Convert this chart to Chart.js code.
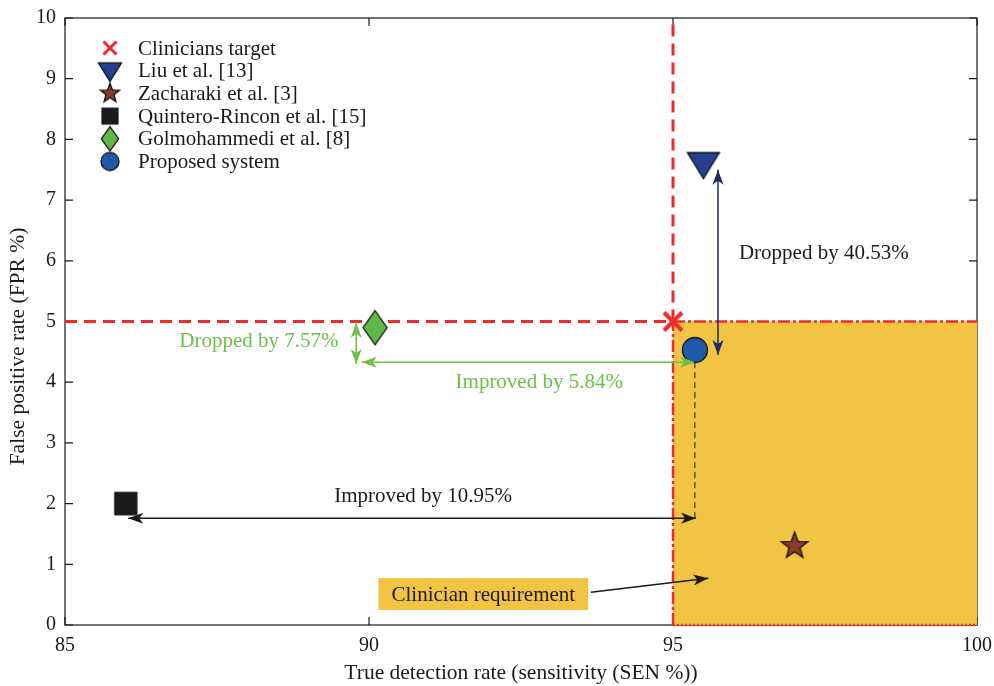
<!DOCTYPE html>
<html>
<head>
<meta charset="utf-8">
<script src="https://cdn.jsdelivr.net/npm/chart.js@4.4.0/dist/chart.umd.min.js"></script>
<style>
  html, body { margin: 0; padding: 0; background: #fff; }
  #wrap { width: 994px; height: 686px; }
</style>
</head>
<body>
<div id="wrap"><canvas id="chart_fpr_sen"></canvas></div>
<script>
// methods compared (SEN %, FPR %)
const methods = ["Clinicians target", "Liu et al. [13]", "Zacharaki et al. [3]",
  "Quintero-Rincon et al. [15]", "Golmohammedi et al. [8]", "Proposed system"];
const sensitivity = [95, 95.5, 97, 86, 90.1, 95.36];
const fpr = [5, 7.6, 1.3, 2, 4.9, 4.53];
const markerKinds = ["x", "triDown", "star", "square", "diamond", "circle"];
const markerColors = ["#ee2b2b", "#263f8e", "#8c3a2c", "#1c1a1a", "#62b846", "#2158a8"];

const xTicks = [85, 90, 95, 100];
const yTicks = [0, 1, 2, 3, 4, 5, 6, 7, 8, 9, 10];

// clinician target guide lines and requirement region
const guideHX = [85, 95], guideHY = [5, 5];
const guideVX = [95, 95], guideVY = [5, 10];
const regionX = [95, 100], regionY = [5, 5];
const regionLeftX = [95, 95], regionLeftY = [0, 5];
const regionBottomX = [95, 100], regionBottomY = [0, 0];

// arrows
const arrLiuX = [95.74, 95.74], arrLiuY = [7.5, 4.45];
const arrGolmVX = [89.79, 89.79], arrGolmVY = [4.98, 4.3];
const arrGolmHX = [89.88, 95.36], arrGolmHY = [4.33, 4.33];
const arrQuinX = [86.04, 95.38], arrQuinY = [1.76, 1.76];
const dropLineX = [95.36, 95.36], dropLineY = [4.33, 1.76];
const arrReqX = [93.65, 95.58], arrReqY = [0.54, 0.77];

const notes = [
  { text: "Dropped by 40.53%", x: 97.48, y: 6.13, color: "#1a1a1a" },
  { text: "Dropped by 7.57%", x: 88.19, y: 4.68, color: "#6cc04a" },
  { text: "Improved by 5.84%", x: 92.8, y: 4.02, color: "#6cc04a" },
  { text: "Improved by 10.95%", x: 90.89, y: 2.13, color: "#1a1a1a" },
  { text: "Clinician requirement", x: 91.88, y: 0.51, color: "#1a1a1a", box: "#f2c443" },
];

const yTitle = "False positive rate (FPR %)";

const FONT = "Liberation Serif";
const YELLOW = "#f2c443";
const RED = "#ee2b2b";

function seg(xs, ys) {
  return xs.map((x, i) => ({ x: x, y: ys[i] }));
}

function makeMarker(kind, color, s) {
  const c = document.createElement("canvas");
  const size = Math.ceil(44 * s);
  c.width = size;
  c.height = size;
  const ctx = c.getContext("2d");
  const m = size / 2;
  ctx.fillStyle = color;
  ctx.strokeStyle = "#111";
  ctx.lineWidth = 1.3;
  ctx.lineJoin = "miter";
  ctx.beginPath();
  if (kind === "x") {
    const r = 9 * s;
    ctx.strokeStyle = color;
    ctx.lineWidth = 4.2 * s;
    ctx.moveTo(m - r, m - r); ctx.lineTo(m + r, m + r);
    ctx.moveTo(m + r, m - r); ctx.lineTo(m - r, m + r);
    ctx.stroke();
    return c;
  }
  if (kind === "triDown") {
    ctx.moveTo(m - 16 * s, m - 11 * s);
    ctx.lineTo(m + 16 * s, m - 11 * s);
    ctx.lineTo(m, m + 15 * s);
    ctx.closePath();
  } else if (kind === "star") {
    for (let i = 0; i < 10; i++) {
      const r = (i % 2 === 0 ? 14 : 5.8) * s;
      const a = -Math.PI / 2 + i * Math.PI / 5;
      const px = m + r * Math.cos(a), py = m + r * Math.sin(a);
      if (i === 0) ctx.moveTo(px, py); else ctx.lineTo(px, py);
    }
    ctx.closePath();
  } else if (kind === "square") {
    ctx.rect(m - 11 * s, m - 11 * s, 22 * s, 22 * s);
  } else if (kind === "diamond") {
    ctx.moveTo(m, m - 17 * s);
    ctx.lineTo(m + 12 * s, m);
    ctx.lineTo(m, m + 17 * s);
    ctx.lineTo(m - 12 * s, m);
    ctx.closePath();
  } else {
    ctx.arc(m, m, 12.5 * s, 0, Math.PI * 2);
  }
  ctx.fill();
  ctx.stroke();
  return c;
}

const legendMarkers = markerKinds.map((k, i) => makeMarker(k, markerColors[i], 0.72));

function lineSet(xs, ys, color, width, dash, extra) {
  return Object.assign({
    type: "line",
    data: seg(xs, ys),
    borderColor: color,
    borderWidth: width,
    borderDash: dash || [],
    pointRadius: 0,
    fill: false,
    tension: 0,
    clip: false,
  }, extra || {});
}

const pointSets = methods.map((name, i) => ({
  label: name,
  data: [{ x: sensitivity[i], y: fpr[i] }],
  pointStyle: makeMarker(markerKinds[i], markerColors[i], 1),
  pointRadius: 14,
  clip: false,
}));

const datasets = pointSets.concat([
  lineSet(arrLiuX, arrLiuY, "#1f2a66", 1.5, null, { arrow: "both" }),
  lineSet(arrGolmVX, arrGolmVY, "#6cc04a", 1.5, null, { arrow: "both" }),
  lineSet(arrGolmHX, arrGolmHY, "#6cc04a", 1.5, null, { arrow: "both" }),
  lineSet(arrQuinX, arrQuinY, "#1a1a1a", 1.5, null, { arrow: "both" }),
  lineSet(dropLineX, dropLineY, "#1a1a1a", 1, [6, 4]),
  lineSet(arrReqX, arrReqY, "#1a1a1a", 1.5, null, { arrow: "end" }),
  lineSet(guideHX, guideHY, RED, 3, [12, 7]),
  lineSet(guideVX, guideVY, RED, 3, [12, 7]),
  lineSet(regionX, regionY, RED, 2.5, [12, 3, 3, 3]),
  lineSet(regionLeftX, regionLeftY, RED, 2.5, [12, 3, 3, 3]),
  lineSet(regionBottomX, regionBottomY, RED, 2.5, [2, 2]),
  lineSet(regionX, regionY, "rgba(0,0,0,0)", 0, null, { fill: "origin", backgroundColor: YELLOW }),
]);

function drawHead(ctx, x1, y1, x2, y2, color) {
  const a = Math.atan2(y2 - y1, x2 - x1);
  ctx.save();
  ctx.translate(x2, y2);
  ctx.rotate(a);
  ctx.beginPath();
  ctx.moveTo(0, 0);
  ctx.lineTo(-15, -5.5);
  ctx.lineTo(-11, 0);
  ctx.lineTo(-15, 5.5);
  ctx.closePath();
  ctx.fillStyle = color;
  ctx.fill();
  ctx.restore();
}

const framePlugin = {
  id: "frame",
  beforeDatasetsDraw(chart) {
    const { ctx, chartArea: a, scales } = chart;
    ctx.save();
    ctx.strokeStyle = "#1a1a1a";
    ctx.lineWidth = 1.2;
    ctx.strokeRect(a.left, a.top, a.right - a.left, a.bottom - a.top);
    ctx.beginPath();
    scales.x.ticks.forEach((t) => {
      const px = scales.x.getPixelForValue(t.value);
      ctx.moveTo(px, a.bottom); ctx.lineTo(px, a.bottom - 8);
      ctx.moveTo(px, a.top); ctx.lineTo(px, a.top + 8);
    });
    scales.y.ticks.forEach((t) => {
      const py = scales.y.getPixelForValue(t.value);
      ctx.moveTo(a.left, py); ctx.lineTo(a.left + 8, py);
      ctx.moveTo(a.right, py); ctx.lineTo(a.right - 8, py);
    });
    ctx.stroke();
    // y axis title (sits a little below the centre of the axis, as in the source)
    ctx.translate(18, (a.top + a.bottom) / 2 + 25);
    ctx.rotate(-Math.PI / 2);
    ctx.font = "21.5px '" + FONT + "'";
    ctx.fillStyle = "#1a1a1a";
    ctx.textAlign = "center";
    ctx.textBaseline = "middle";
    ctx.fillText(yTitle, 0, 0);
    ctx.restore();
  },
  afterDatasetsDraw(chart) {
    const { ctx, chartArea: a, scales } = chart;
    // arrow heads
    chart.data.datasets.forEach((ds, i) => {
      if (!ds.arrow) return;
      const pts = chart.getDatasetMeta(i).data;
      const p0 = pts[0], p1 = pts[pts.length - 1];
      drawHead(ctx, p0.x, p0.y, p1.x, p1.y, ds.borderColor);
      if (ds.arrow === "both") drawHead(ctx, p1.x, p1.y, p0.x, p0.y, ds.borderColor);
    });
    // notes
    ctx.save();
    ctx.font = "21px '" + FONT + "'";
    ctx.textAlign = "center";
    ctx.textBaseline = "middle";
    notes.forEach((n) => {
      const px = scales.x.getPixelForValue(n.x);
      const py = scales.y.getPixelForValue(n.y);
      if (n.box) {
        const w = ctx.measureText(n.text).width + 26;
        ctx.fillStyle = n.box;
        ctx.fillRect(px - w / 2, py - 16, w, 32);
      }
      ctx.fillStyle = n.color;
      ctx.fillText(n.text, px, py + 1);
    });
    // legend
    ctx.textAlign = "left";
    methods.forEach((name, i) => {
      const ly = a.top + 30 + i * 22.7;
      const mk = legendMarkers[i];
      ctx.drawImage(mk, a.left + 45 - mk.width / 2, ly - mk.height / 2);
      ctx.fillStyle = "#1a1a1a";
      ctx.fillText(name, a.left + 73, ly + 1);
    });
    ctx.restore();
  },
};

new Chart(document.getElementById("chart_fpr_sen").getContext("2d"), {
  type: "scatter",
  data: { datasets: datasets },
  plugins: [framePlugin],
  options: {
    responsive: true,
    maintainAspectRatio: false,
    animation: false,
    events: [],
    layout: { padding: { top: 18, right: 17, left: 0, bottom: 0 } },
    plugins: { legend: { display: false }, tooltip: { enabled: false } },
    scales: {
      x: {
        type: "linear",
        min: xTicks[0],
        max: xTicks[xTicks.length - 1],
        afterBuildTicks: (scale) => { scale.ticks = xTicks.map((v) => ({ value: v })); },
        afterFit: (scale) => {
          scale.height = 61;
          scale.paddingLeft = 0;
          scale.paddingRight = 0;
        },
        grid: { display: false, drawTicks: false },
        border: { display: false },
        ticks: { padding: 9, maxRotation: 0, color: "#1a1a1a", font: { family: FONT, size: 20 } },
        title: {
          display: true,
          text: "True detection rate (sensitivity (SEN %))",
          color: "#1a1a1a",
          font: { family: FONT, size: 21.5 },
          padding: { top: 0, bottom: 0 },
        },
      },
      y: {
        type: "linear",
        min: yTicks[0],
        max: yTicks[yTicks.length - 1],
        afterBuildTicks: (scale) => { scale.ticks = yTicks.map((v) => ({ value: v })); },
        afterFit: (scale) => {
          scale.width = 65;
          scale.paddingTop = 0;
          scale.paddingBottom = 0;
        },
        grid: { display: false, drawTicks: false },
        border: { display: false },
        ticks: { padding: 9, color: "#1a1a1a", font: { family: FONT, size: 20 } },
        title: { display: false },
      },
    },
  },
});
</script>
</body>
</html>
